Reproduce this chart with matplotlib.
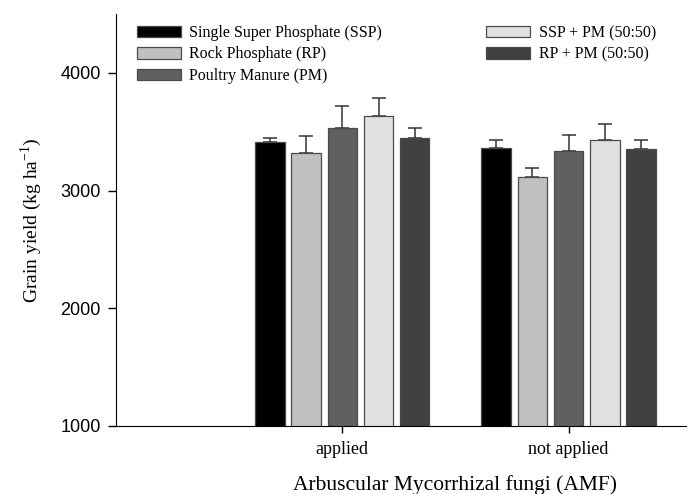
import matplotlib.pyplot as plt
import numpy as np

# data
groups = ["applied", "not applied"]
treatments = ["Single Super Phosphate (SSP)", "Rock Phosphate (RP)",
              "Poultry Manure (PM)", "SSP + PM (50:50)", "RP + PM (50:50)"]
ssp = [3416, 3365]
rp = [3323, 3114]
pm = [3530, 3334]
ssp_pm = [3637, 3428]
rp_pm = [3450, 3354]
ssp_err = [34, 63]
rp_err = [144, 81]
pm_err = [187, 136]
ssp_pm_err = [148, 136]
rp_pm_err = [80, 74]

series = [ssp, rp, pm, ssp_pm, rp_pm]
errors = [ssp_err, rp_err, pm_err, ssp_pm_err, rp_pm_err]
colors = ["#000000", "#c0c0c0", "#606060", "#e0e0e0", "#404040"]

plt.rcParams["font.family"] = ["Liberation Serif", "DejaVu Serif"]

fig = plt.figure(figsize=(6.87, 4.94), dpi=100)
# axis runs 0..3, the right part is cut off by the figure edge as in the original
ax = fig.add_axes([0.169, 0.1377, 0.988, 0.834])

x = np.array([1, 2])
pitch = 0.16
width = 0.13
bars = []
for i, (vals, err, c) in enumerate(zip(series, errors, colors)):
    pos = x + (i - 2) * pitch
    b = ax.bar(pos, vals, width, color=c, edgecolor="#4a4a4a",
               linewidth=0.9, label=treatments[i], zorder=2)
    ax.errorbar(pos, vals, yerr=[np.zeros(len(err)), err], fmt="none",
                ecolor="#333333", elinewidth=1.1, capsize=5, capthick=1.1, zorder=1)
    bars.append(b)

ax.set_ylim(1000, 4500)
ax.set_xlim(0, 3)
ax.set_yticks([1000, 2000, 3000, 4000])
ax.set_xticks(x)
ax.set_xticklabels(groups, fontsize=13)
for t in ax.get_yticklabels():
    t.set_fontfamily(["Liberation Sans", "DejaVu Sans"])
    t.set_fontsize(13)
ax.tick_params(axis="y", direction="out", length=6, width=1, pad=5)
ax.tick_params(axis="x", direction="out", length=5, width=1, pad=6)
ax.spines["top"].set_visible(False)
ax.spines["right"].set_visible(False)
ax.set_ylabel("Grain yield (kg ha$^{\\mathregular{-1}}$)", fontsize=14, labelpad=12)
ax.set_xlabel("Arbuscular Mycorrhizal fungi (AMF)", fontsize=15.5, labelpad=12)

leg = ax.legend(bars, treatments, ncol=2, loc="upper left",
                bbox_to_anchor=(0.009, 1.008), frameon=False, fontsize=11.5,
                handlelength=2.75, handleheight=0.75, handletextpad=0.56,
                columnspacing=6.5, labelspacing=0.34)

fig.savefig("out.png", dpi=100)
